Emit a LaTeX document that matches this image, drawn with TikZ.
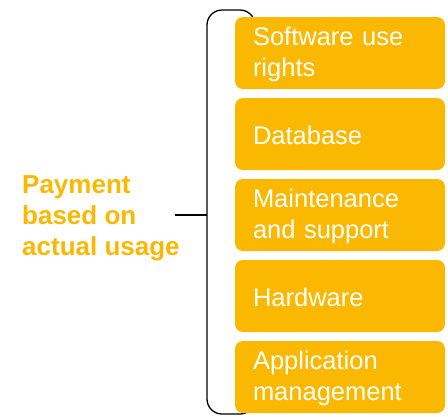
\documentclass[tikz,border=0pt]{standalone}
\usepackage{fontspec}
\setmainfont{Liberation Sans}
\usepackage{tikz}
\definecolor{sapgold}{RGB}{250,184,0}

\begin{document}
\begin{tikzpicture}[x=1pt,y=-1pt,
    item/.style={fill=sapgold, rounded corners=8pt, minimum width=210pt, minimum height=72pt,
        text width=174pt, inner xsep=18pt, align=left, text=white,
        font=\fontsize{25.5}{31}\selectfont, execute at begin node={\rule{0pt}{22pt}}},
    title/.style={text=sapgold, align=left, inner sep=0pt,
        font=\fontsize{26}{31}\selectfont\bfseries}]
            \useasboundingbox (0,0) rectangle (448,416);
            \draw[line width=1.3pt, rounded corners=15pt] (255,24) -- (255,10) -- (207,10) -- (207,414) -- (255,414) -- (255,400);
            \node[item] (rights) at (340,53) {Software use\\rights};
            \node[item] (db) at (340,134) {Database};
            \node[item] (maint) at (340,215) {Maintenance\\and support};
            \node[item] (hw) at (340,296) {Hardware};
            \node[item] (app) at (340,377) {Application\\management};
            \node[title, anchor=west] (usage) at (22,218) {Payment\\based on\\actual usage};
            \coordinate (joint) at (207,215);
            \draw[line width=1.3pt] ([xshift=-5pt]joint -| usage.east) -- (joint);
        \end{tikzpicture}
\end{document}
